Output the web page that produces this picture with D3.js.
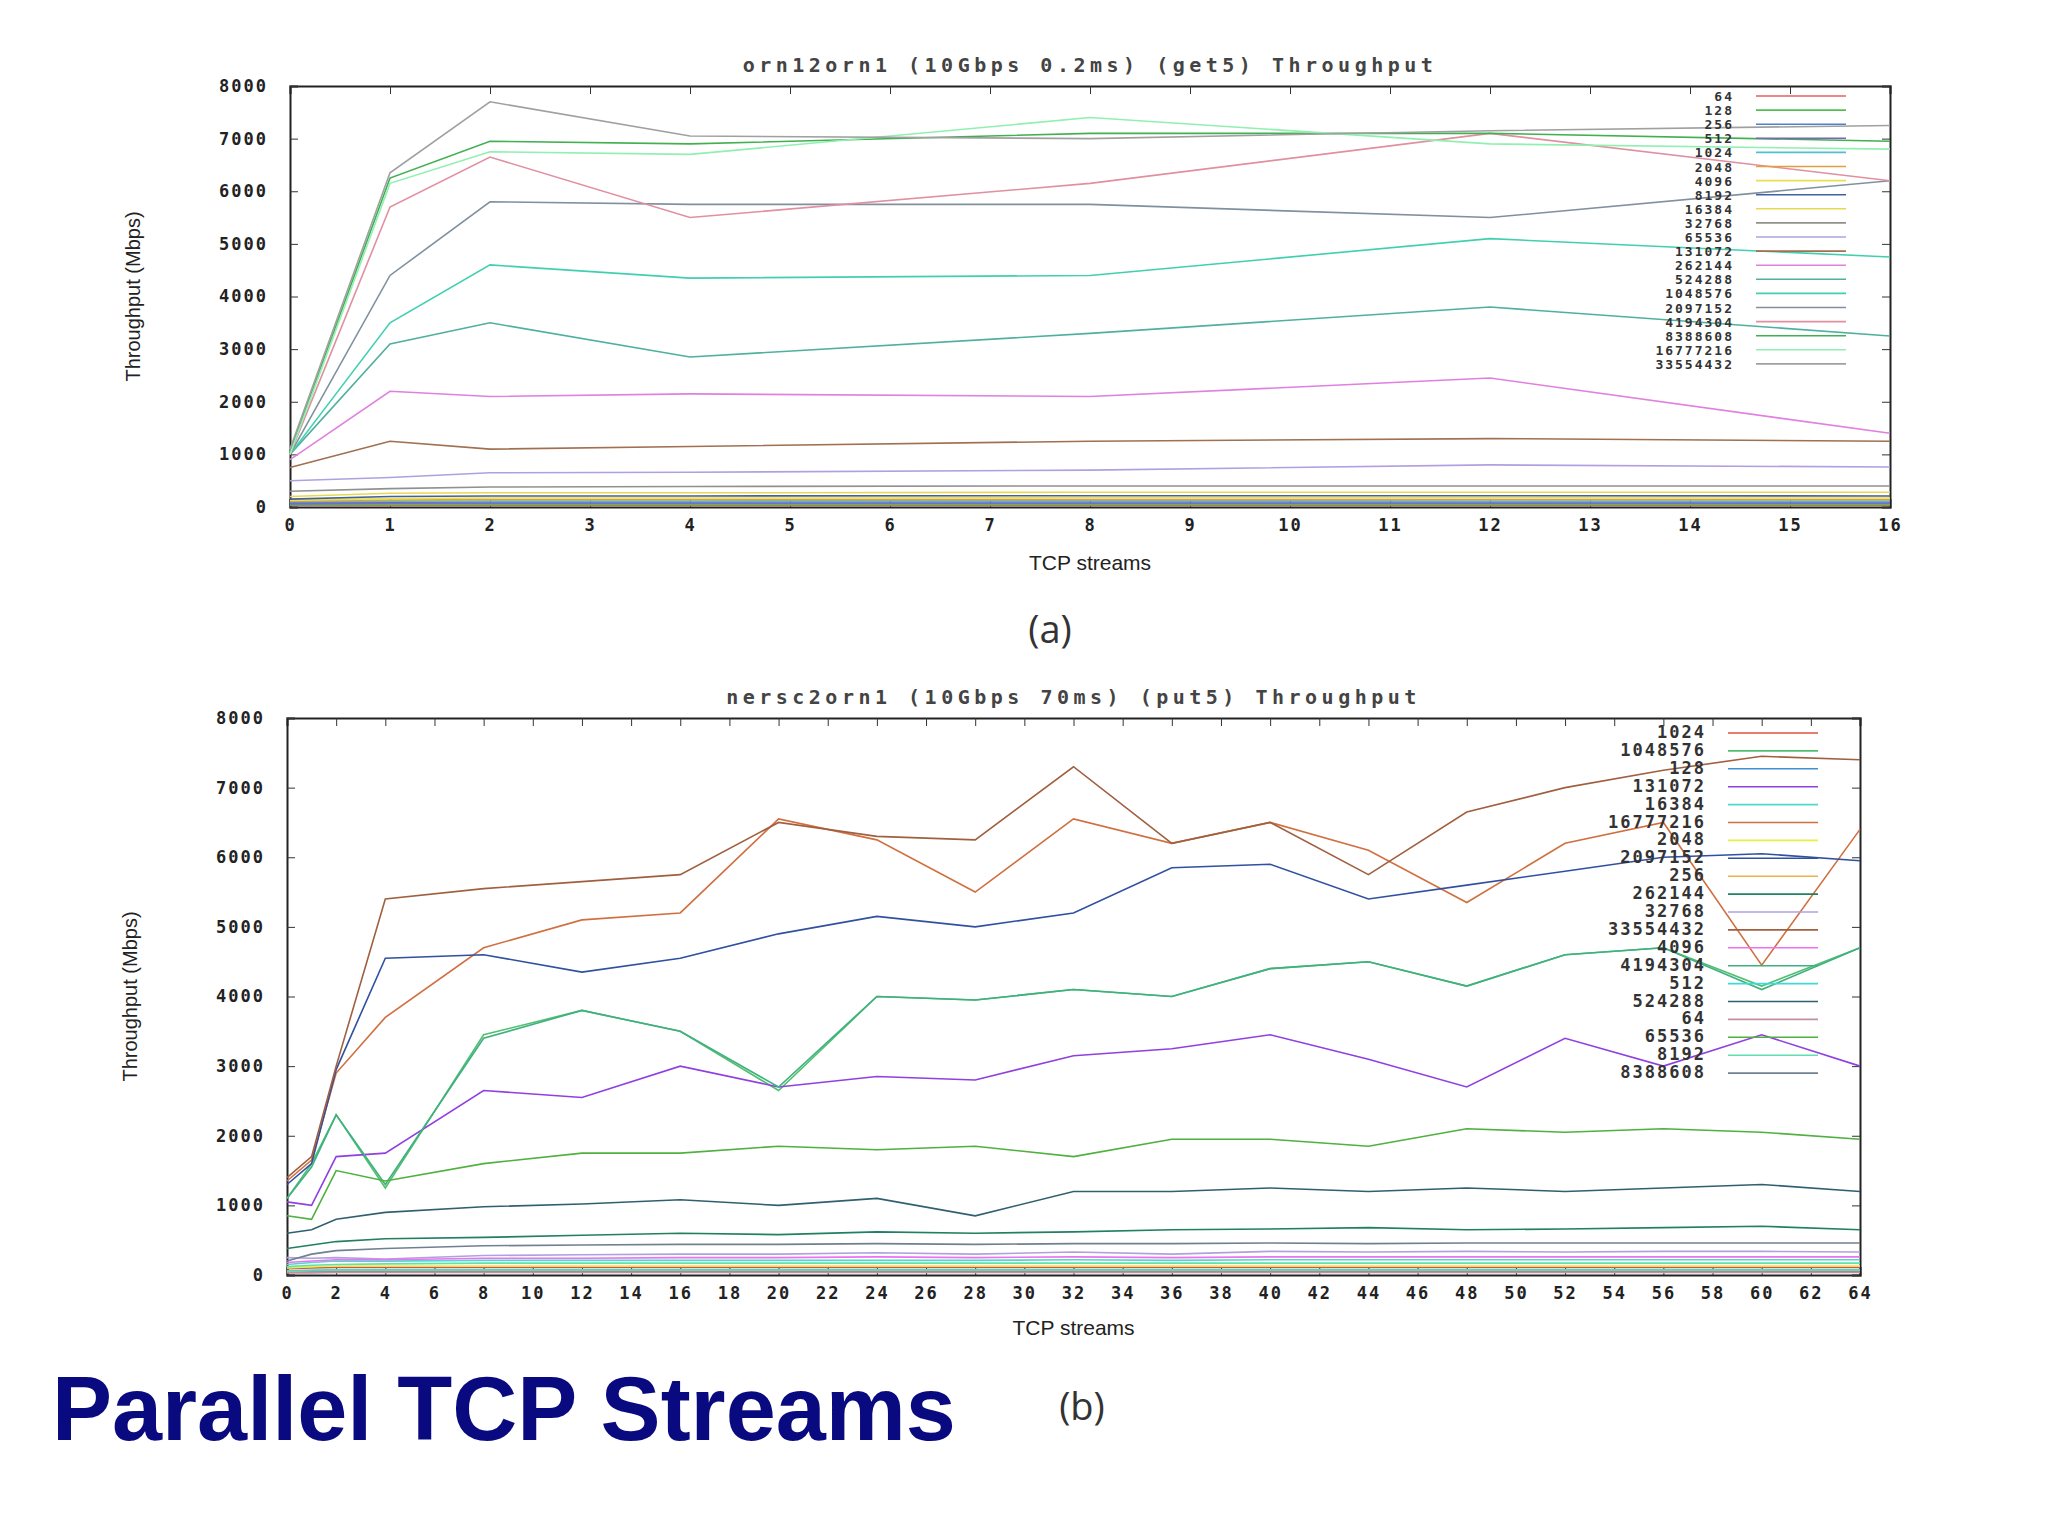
<!DOCTYPE html>
<html><head><meta charset="utf-8">
<script src="https://cdn.jsdelivr.net/npm/d3@7"></script>
<style>body{margin:0;background:#fff}svg{display:block}</style>
</head><body>
<svg id="c" width="2048" height="1535"></svg>
<script>
// ---- Chart (a) data: orn12orn1, x = TCP streams ----
const xA = [0, 1, 2, 4, 8, 12, 16];
const namesA = ["64","128","256","512","1024","2048","4096","8192","16384","32768","65536","131072","262144","524288","1048576","2097152","4194304","8388608","16777216","33554432"];
const colorsA = ["#e06060","#50c050","#5080d0","#8060c0","#50c0d0","#e0a040","#e8e050","#4060a0","#e8d850","#909090","#b0a0e0","#a07050","#e080e0","#50b0a0","#40d0b0","#8090a0","#e090a0","#40b050","#90f0b0","#a0a0a0"];
const a64 = [30, 30, 30, 30, 30, 30, 30];
const a128 = [45, 50, 50, 50, 50, 50, 50];
const a256 = [60, 70, 70, 70, 70, 70, 70];
const a512 = [80, 90, 95, 95, 95, 95, 95];
const a1024 = [100, 110, 115, 115, 120, 115, 115];
const a2048 = [110, 130, 140, 140, 140, 140, 140];
const a4096 = [130, 160, 170, 170, 175, 175, 170];
const a8192 = [150, 200, 210, 210, 215, 215, 210];
const a16384 = [200, 260, 270, 270, 280, 280, 280];
const a32768 = [300, 350, 380, 390, 400, 400, 400];
const a65536 = [500, 560, 650, 660, 700, 800, 760];
const a131072 = [750, 1250, 1100, 1150, 1250, 1300, 1250];
const a262144 = [900, 2200, 2100, 2150, 2100, 2450, 1400];
const a524288 = [1000, 3100, 3500, 2850, 3300, 3800, 3250];
const a1048576 = [1000, 3500, 4600, 4350, 4400, 5100, 4750];
const a2097152 = [1000, 4400, 5800, 5750, 5750, 5500, 6200];
const a4194304 = [1000, 5700, 6650, 5500, 6150, 7100, 6200];
const a8388608 = [1050, 6250, 6950, 6900, 7100, 7100, 6950];
const a16777216 = [1000, 6150, 6750, 6700, 7400, 6900, 6800];
const a33554432 = [1100, 6350, 7700, 7050, 7000, 7150, 7250];
const valuesA = [a64,a128,a256,a512,a1024,a2048,a4096,a8192,a16384,a32768,a65536,a131072,a262144,a524288,a1048576,a2097152,a4194304,a8388608,a16777216,a33554432];
const ticksXA = d3.range(0, 17, 1);

// ---- Chart (b) data: nersc2orn1 ----
const xB = [0, 1, 2, 4, 8, 12, 16, 20, 24, 28, 32, 36, 40, 44, 48, 52, 56, 60, 64];
const namesB = ["1024","1048576","128","131072","16384","16777216","2048","2097152","256","262144","32768","33554432","4096","4194304","512","524288","64","65536","8192","8388608"];
const colorsB = ["#e05040","#50c070","#4090d0","#9040e0","#50d8d0","#d07040","#e8f040","#3050a0","#f0b050","#208060","#b0a0e0","#a06040","#f070f0","#40b080","#40d8d8","#306070","#c090a0","#50b040","#60e0b0","#708090"];
const b1024 = [90, 100, 110, 110, 110, 110, 110, 110, 110, 110, 110, 110, 110, 110, 110, 110, 110, 110, 110];
const b1048576 = [1100, 1600, 2300, 1250, 3450, 3800, 3500, 2650, 4000, 3950, 4100, 4000, 4400, 4500, 4150, 4600, 4700, 4150, 4700];
const b128 = [40, 45, 50, 50, 50, 50, 50, 50, 50, 50, 50, 50, 50, 50, 50, 50, 50, 50, 50];
const b131072 = [1050, 1000, 1700, 1750, 2650, 2550, 3000, 2700, 2850, 2800, 3150, 3250, 3450, 3100, 2700, 3400, 3000, 3450, 3000];
const b16384 = [150, 180, 200, 200, 210, 210, 210, 210, 210, 210, 220, 210, 220, 220, 220, 220, 220, 220, 220];
const b16777216 = [1350, 1650, 2900, 3700, 4700, 5100, 5200, 6550, 6250, 5500, 6550, 6200, 6500, 6100, 5350, 6200, 6500, 4450, 6400];
const b2048 = [100, 120, 130, 130, 130, 130, 130, 130, 130, 130, 130, 130, 130, 130, 130, 130, 130, 130, 130];
const b2097152 = [1300, 1600, 2950, 4550, 4600, 4350, 4550, 4900, 5150, 5000, 5200, 5850, 5900, 5400, 5600, 5800, 6000, 6050, 5950];
const b256 = [55, 60, 65, 65, 65, 65, 65, 65, 65, 65, 65, 65, 65, 65, 65, 65, 65, 65, 65];
const b262144 = [380, 430, 480, 520, 540, 570, 600, 580, 620, 600, 620, 650, 660, 680, 650, 660, 680, 700, 650];
const b32768 = [250, 240, 250, 230, 280, 290, 300, 300, 320, 300, 330, 300, 340, 330, 340, 330, 340, 340, 330];
const b33554432 = [1400, 1700, 3000, 5400, 5550, 5650, 5750, 6500, 6300, 6250, 7300, 6200, 6500, 5750, 6650, 7000, 7250, 7450, 7400];
const b4096 = [180, 200, 220, 220, 240, 240, 250, 250, 260, 250, 260, 250, 260, 260, 260, 260, 260, 260, 260];
const b4194304 = [1100, 1550, 2300, 1300, 3400, 3800, 3500, 2700, 4000, 3950, 4100, 4000, 4400, 4500, 4150, 4600, 4700, 4100, 4700];
const b512 = [60, 70, 75, 75, 75, 75, 75, 75, 75, 75, 75, 75, 75, 75, 75, 75, 75, 75, 75];
const b524288 = [600, 650, 800, 900, 980, 1020, 1080, 1000, 1100, 850, 1200, 1200, 1250, 1200, 1250, 1200, 1250, 1300, 1200];
const b64 = [30, 30, 35, 35, 35, 35, 35, 35, 35, 35, 35, 35, 35, 35, 35, 35, 35, 35, 35];
const b65536 = [850, 800, 1500, 1350, 1600, 1750, 1750, 1850, 1800, 1850, 1700, 1950, 1950, 1850, 2100, 2050, 2100, 2050, 1950];
const b8192 = [120, 140, 150, 160, 170, 170, 170, 170, 170, 170, 170, 170, 170, 170, 170, 170, 170, 170, 170];
const b8388608 = [200, 300, 350, 380, 420, 430, 440, 440, 450, 440, 450, 450, 460, 450, 460, 460, 460, 460, 460];
const valuesB = [b1024,b1048576,b128,b131072,b16384,b16777216,b2048,b2097152,b256,b262144,b32768,b33554432,b4096,b4194304,b512,b524288,b64,b65536,b8192,b8388608];
const ticksXB = d3.range(0, 65, 2);
const ticksY = d3.range(0, 8001, 1000);

const svg = d3.select("#c");
const mono = "'DejaVu Sans Mono', monospace";

function chart(o) {
  const x = d3.scaleLinear().domain(o.xdom).range([o.l, o.r]);
  const y = d3.scaleLinear().domain([0, 8000]).range([o.b, o.t]);
  const g = svg.append("g");
  g.append("text").attr("x", (o.l + o.r) / 2).attr("y", o.t - 14).attr("text-anchor", "middle")
    .attr("font-family", mono).attr("font-weight", "bold").attr("font-size", 20).attr("letter-spacing", 4.5).attr("fill", "#444").text(o.title);
  const ax = d3.axisBottom(x).tickValues(o.xt).tickSize(-8).tickPadding(12).tickFormat(d3.format("d"));
  const axT = d3.axisTop(x).tickValues(o.xt).tickSize(-8).tickFormat("");
  const ay = d3.axisLeft(y).tickValues(ticksY).tickSize(-8).tickPadding(22).tickFormat(d3.format("d"));
  const ayR = d3.axisRight(y).tickValues(ticksY).tickSize(-8).tickFormat("");
  [[ax, `translate(0,${o.b})`], [axT, `translate(0,${o.t})`], [ay, `translate(${o.l},0)`], [ayR, `translate(${o.r},0)`]].forEach(([a, t]) => {
    const s = g.append("g").attr("transform", t).call(a);
    s.select(".domain").attr("stroke", "#222").attr("stroke-width", 2);
    s.selectAll(".tick line").attr("stroke", "#333");
    s.selectAll("text").attr("font-family", mono).attr("font-weight", "bold").attr("font-size", 17).attr("letter-spacing", 2).attr("fill", "#222");
  });
  const line = d3.line().x((d, i) => x(o.xs[i])).y(d => y(d));
  o.vals.forEach((v, i) => {
    g.append("path").datum(v).attr("d", line).attr("fill", "none").attr("stroke", o.colors[i]).attr("stroke-width", 1.6);
  });
  o.names.forEach((n, i) => {
    const yy = o.ly + i * o.ls;
    g.append("text").attr("x", o.lx).attr("y", yy + 5).attr("text-anchor", "end")
      .attr("font-family", mono).attr("font-weight", "bold").attr("font-size", o.lf).attr("letter-spacing", o.lsp).attr("fill", "#333").text(n);
    g.append("line").attr("x1", o.lx + 22).attr("x2", o.lx + 112).attr("y1", yy).attr("y2", yy)
      .attr("stroke", o.colors[i]).attr("stroke-width", 1.6);
  });
  g.append("text").attr("transform", `translate(${o.l - 150},${(o.t + o.b) / 2}) rotate(-90)`).attr("text-anchor", "middle")
    .attr("font-family", "'Liberation Sans Narrow', 'Liberation Sans', sans-serif").attr("font-size", 20).attr("fill", "#222").text("Throughput (Mbps)");
  g.append("text").attr("x", (o.l + o.r) / 2).attr("y", o.xl).attr("text-anchor", "middle")
    .attr("font-family", "'Liberation Sans', sans-serif").attr("font-size", 21).attr("fill", "#222").text("TCP streams");
}

chart({title: "orn12orn1 (10Gbps 0.2ms) (get5) Throughput", l: 290, r: 1890, t: 86, b: 507, xdom: [0, 16], xt: ticksXA, xs: xA,
  vals: valuesA, names: namesA, colors: colorsA, lx: 1734, ly: 96, ls: 14.1, lf: 13, lsp: 2, xl: 570});
chart({title: "nersc2orn1 (10Gbps 70ms) (put5) Throughput", l: 287, r: 1860, t: 718, b: 1275, xdom: [0, 64], xt: ticksXB, xs: xB,
  vals: valuesB, names: namesB, colors: colorsB, lx: 1706, ly: 733, ls: 17.9, lf: 17, lsp: 2, xl: 1335});

svg.append("text").attr("x", 1050).attr("y", 643).attr("text-anchor", "middle").attr("font-family", "'Open Sans', sans-serif").attr("font-size", 38).attr("fill", "#333").text("(a)");
svg.append("text").attr("x", 1082).attr("y", 1420).attr("text-anchor", "middle").attr("font-family", "'Open Sans', sans-serif").attr("font-size", 38).attr("fill", "#333").text("(b)");
svg.append("text").attr("x", 52).attr("y", 1440).attr("font-family", "'Liberation Sans', Arial, sans-serif").attr("font-weight", "bold").attr("font-size", 90).attr("fill", "#0a0a80").text("Parallel TCP Streams");
</script>
</body></html>
